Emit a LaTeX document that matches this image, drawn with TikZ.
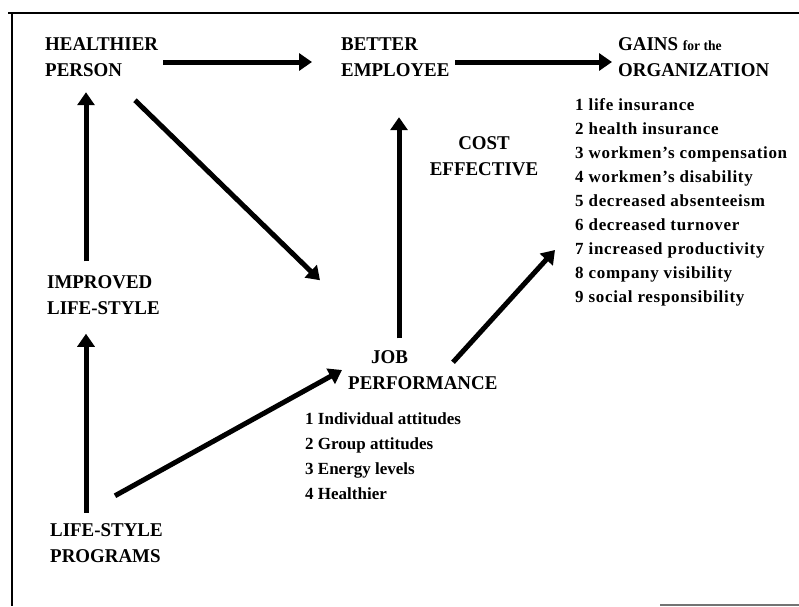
\documentclass[tikz,border=0pt]{standalone}
\usepackage{fontspec}
\setmainfont{Liberation Serif}
\newfontfamily\headfont{Liberation Serif}[FakeStretch=0.97]
\newfontfamily\itemfont{Liberation Serif}[LetterSpace=4]
\usetikzlibrary{arrows.meta,positioning}

\begin{document}
\begin{tikzpicture}[x=1pt,y=-1pt,
    head/.style={inner sep=0pt,align=left,font=\headfont\bfseries\fontsize{19.5}{26}\selectfont},
    items/.style={inner sep=0pt,align=left,font=\itemfont\bfseries\fontsize{17}{24}\selectfont},
    arr/.style={line width=5pt,-{Triangle[length=13pt,width=17pt]}},
    frame/.style={line width=2.5pt}]
  \path[use as bounding box,fill=white] (0,0) rectangle (799,606);
  \draw[frame] (8,13) -- (799,13) (12,13) -- (12,606);
  \draw[frame,line width=1.5pt,black!55] (660,605) -- (799,605);

  \node[head]  (hp)    [anchor=west] at (45,57)   {HEALTHIER\\PERSON};
  \node[head]  (be)    [right=296pt of hp.west, anchor=west]  {BETTER\\EMPLOYEE};
  \node[head]  (gains) [right=277pt of be.west, anchor=west]  {GAINS {\fontsize{14}{26}\selectfont for the}\\ORGANIZATION};

  \node[head]  (ils)   [below right=238pt and 2pt of hp.west, anchor=west]  {IMPROVED\\LIFE-STYLE};
  \node[head]  (lsp)   [below right=248pt and 3pt of ils.west, anchor=west] {LIFE-STYLE\\PROGRAMS};

  \node[head]  (jp)    [below right=313pt and 303pt of hp.west, anchor=west] {\hspace*{23pt}JOB\\PERFORMANCE};
  \node[head, align=center] (cost) [below right=99pt and 143pt of be.west, anchor=center] {COST\\EFFECTIVE};

  \node[items] (glist) [below left=145.5pt and 43pt of gains.west, anchor=west]
        {1 life insurance\\2 health insurance\\3 workmen’s compensation\\4 workmen’s disability\\5 decreased absenteeism\\6 decreased turnover\\7 increased productivity\\8 company visibility\\9 social responsibility};
  \node[items, font=\bfseries\fontsize{17}{25}\selectfont] (jlist) [below left=86pt and 43pt of jp.west, anchor=west]
        {1 Individual attitudes\\2 Group attitudes\\3 Energy levels\\4 Healthier};

  \path[arr]
        ([xshift=118pt,yshift=-5pt]hp.west) edge[shorten >=29pt] ([yshift=-5pt]be.west)
        ([xshift=114pt,yshift=-5pt]be.west) edge[shorten >=6pt] ([yshift=-5pt]gains.west)
        ([xshift=39pt]ils.north west) edge[shorten <=14pt, shorten >=15.5pt] ([xshift=41pt]hp.south west)
        ([xshift=36pt]lsp.north west) edge[shorten <=10.5pt, shorten >=19pt] ([xshift=39pt]ils.south west)
        ([xshift=51pt]jp.north west) edge[shorten <=12pt, shorten >=40.5pt] ([xshift=58pt]be.south west)
        ([xshift=90pt,yshift=-23.5pt]hp.south west) edge ([xshift=-28pt,yshift=70pt]jp.north west)
        ([xshift=65pt,yshift=27.5pt]lsp.north west) edge ([xshift=-6pt]jp.west)
        ([xshift=105pt,yshift=-12pt]jp.north west) edge ([xshift=-20pt,yshift=-47.5pt]glist.west)
        ;
\end{tikzpicture}
\end{document}
